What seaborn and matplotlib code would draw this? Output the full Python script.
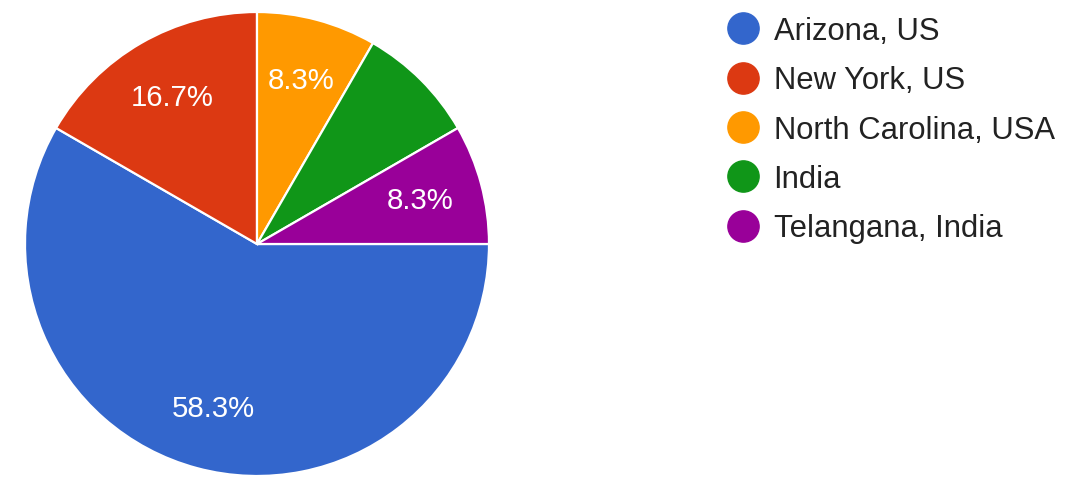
import matplotlib
matplotlib.use("Agg")
import matplotlib.pyplot as plt
from matplotlib.lines import Line2D
import seaborn as sns

categories = ["Arizona, US", "New York, US", "North Carolina, USA", "India", "Telangana, India"]
counts = [7, 2, 1, 1, 1]
colors = ["#3366cc", "#dc3912", "#ff9900", "#109618", "#990099"]
show_label = [True, True, True, False, True]

sns.set_theme(style="white")
plt.rcParams["font.family"] = ["Liberation Sans", "DejaVu Sans"]

W, H = 1080, 489
fig = plt.figure(figsize=(W / 100, H / 100), dpi=100)
cx, cy, r = 257, 245, 232
ax = fig.add_axes([(cx - r) / W, (H - cy - r) / H, 2 * r / W, 2 * r / H])

def fmt(p):
    return f"{p:.1f}%"

wedges, texts, autotexts = ax.pie(
    counts, colors=colors, startangle=0, counterclock=False,
    autopct=fmt, pctdistance=0.73, radius=1,
    wedgeprops=dict(edgecolor="white", linewidth=1.6),
    textprops=dict(color="white", fontsize=21.2),
)
for t, s in zip(autotexts, show_label):
    t.set_visible(s)
ax.set_xlim(-1, 1)
ax.set_ylim(-1, 1)
ax.set_aspect("equal")
ax.axis("off")

handles = [Line2D([], [], marker="o", linestyle="none", markersize=22.5,
                  markerfacecolor=c, markeredgecolor=c) for c in colors]
leg = fig.legend(handles, categories, loc="upper left",
                 bbox_to_anchor=(728 / W, 1 - 17 / H), frameon=False,
                 fontsize=22.3, labelspacing=0.625, handlelength=1.0,
                 handletextpad=0.47, borderaxespad=0, borderpad=0)
for t in leg.get_texts():
    t.set_color("#222222")

fig.savefig("out.png", dpi=100, facecolor="white")
